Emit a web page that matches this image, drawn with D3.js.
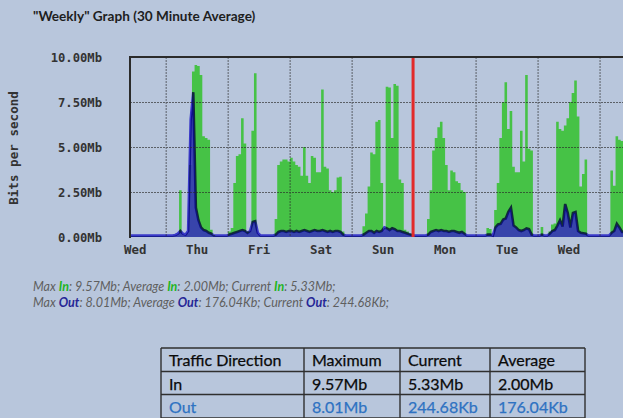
<!DOCTYPE html>
<html><head><meta charset="utf-8">
<script src="https://cdn.jsdelivr.net/npm/d3@7"></script>
<style>html,body{margin:0;padding:0;background:#b8c6dc;} svg{display:block}</style>
</head><body>
<svg id="c" width="623" height="418"></svg>
<script>
// ---------- data ----------
const titleText = "\"Weekly\" Graph (30 Minute Average)";
const yTicks = [0, 2.5, 5, 7.5, 10];
const yTickLabels = ["0.00Mb", "2.50Mb", "5.00Mb", "7.50Mb", "10.00Mb"];
const dayLabels = ["Wed", "Thu", "Fri", "Sat", "Sun", "Mon", "Tue", "Wed"];
const dayNoonHours = [-12, 12, 36, 60, 84, 108, 132, 156];
const midnightHours = [0, 24, 48, 72, 120, 144, 168];
const nowHour = 95.6;
const startHour = -14;   // Wed 10:00, hours relative to Thu 00:00
const endHour = 177;

// hourly "In" averages (Mb/s)
const inWedA = [0.05,0.05,0.05,0.05,0.05,0.05,0.05,0.05,0.05,0.05,0.05,0.05,0.05,0.05];
const inThu = [0.05,0.05,0.05,0.05,0.1,2.6,0.1,0.05,0.2,4.0,9.2,9.55,9.5,9.0,5.6,5.5,5.4,0.4,0.1,0.05,0.05,0.05,0.05,0.05];
const inFri = [0.3,0.5,3.0,4.5,4.6,6.6,5.2,0.3,0.3,5.9,9.1,0.1,0.05,0.05,0.05,0.05,0.05,0.05,1.0,4.0,4.2,4.3,4.3,4.2];
const inSat = [4.4,4.2,4.0,3.9,3.4,5.0,3.4,3.0,4.5,4.4,3.6,3.6,8.2,3.9,3.8,2.6,2.5,2.6,3.3,3.35,0.3,0.05,0.05,0.05];
const inSun = [0.05,0.05,0.05,0.05,0.6,1.3,2.8,4.7,4.6,6.4,6.5,3.0,0.3,8.35,8.3,5.5,8.5,8.4,3.2,3.0,0.4,0.3,0.2,0.2];
const inMon = [0.05,0.05,0.05,0.05,0.05,1.0,2.6,4.8,5.5,6.1,6.4,5.5,4.0,2.6,3.7,3.6,3.1,3.0,2.6,2.5,0.05,0.05,0.05,0.05];
const inTue = [0.05,0.05,0.05,0.05,0.5,0.45,0.05,1.5,3.0,5.5,7.5,8.6,6.0,7.0,3.9,3.6,3.6,5.9,4.2,9.0,4.9,4.8,0.05,0.05];
const inWedB = [0.05,0.55,0.05,0.05,0.3,0.7,0.75,6.4,6.0,5.9,6.2,6.6,7.5,8.0,8.7,6.7,2.8,3.5,4.3,0.05,0.05,0.05,0.05,0.05,0.05,0.05,0.05,0.05,3.7,2.85,5.6,5.4,5.33];

// hourly "Out" averages (Mb/s)
const outWedA = [0.05,0.05,0.05,0.05,0.05,0.05,0.05,0.05,0.05,0.05,0.05,0.05,0.05,0.05];
const outThu = [0.05,0.05,0.05,0.08,0.15,0.3,0.15,0.1,0.3,6.5,8.01,1.6,0.9,0.5,0.35,0.3,0.2,0.15,0.05,0.05,0.05,0.05,0.05,0.05];
const outFri = [0.1,0.15,0.2,0.25,0.3,0.35,0.3,0.2,0.3,0.8,0.85,0.2,0.05,0.05,0.05,0.05,0.05,0.05,0.1,0.25,0.3,0.3,0.25,0.3];
const outSat = [0.3,0.25,0.3,0.25,0.3,0.35,0.3,0.25,0.3,0.35,0.3,0.3,0.35,0.3,0.25,0.3,0.25,0.3,0.3,0.25,0.1,0.05,0.05,0.05];
const outSun = [0.05,0.05,0.05,0.05,0.1,0.2,0.3,0.3,0.2,0.3,0.25,0.3,0.5,0.45,0.35,0.45,0.4,0.3,0.3,0.25,0.2,0.15,0.1,0.05];
const outMon = [0.05,0.05,0.05,0.05,0.05,0.1,0.25,0.3,0.35,0.3,0.35,0.3,0.3,0.25,0.3,0.3,0.25,0.2,0.25,0.15,0.05,0.05,0.05,0.05];
const outTue = [0.05,0.05,0.05,0.05,0.1,0.1,0.05,0.5,0.66,0.7,0.94,1.0,1.37,1.6,0.6,0.5,0.35,0.3,0.35,0.44,0.4,0.1,0.05,0.05];
const outWedB = [0.05,0.1,0.05,0.05,0.15,0.3,0.35,0.6,0.9,0.55,1.8,1.3,0.5,1.3,1.35,0.3,0.2,0.18,0.15,0.05,0.05,0.05,0.05,0.05,0.05,0.05,0.05,0.05,0.2,0.3,0.7,0.5,0.25];

const statNames = ["Max", "Average", "Current"];
const inStats = ["9.57Mb", "2.00Mb", "5.33Mb"];
const outStats = ["8.01Mb", "176.04Kb", "244.68Kb"];
const tableHeader = ["Traffic Direction", "Maximum", "Current", "Average"];
const tableIn = ["In", "9.57Mb", "5.33Mb", "2.00Mb"];
const tableOut = ["Out", "8.01Mb", "244.68Kb", "176.04Kb"];

// ---------- drawing ----------
const svg = d3.select("#c");
const BG = "#b8c6dc", GREEN = "#46c246", BLUE = "#3636b6";
svg.append("rect").attr("width", 623).attr("height", 418).attr("fill", BG);

const L = 130, T = 57, R = 623.3, B = 237;
const x = d3.scaleLinear().domain([startHour, endHour]).range([L, R]);
const y = d3.scaleLinear().domain([0, 10]).range([B, T]);

const toSeries = arr => arr.map((v, i) => ({ t: startHour + i, v }));
const inSeries = toSeries([].concat(inWedA, inThu, inFri, inSat, inSun, inMon, inTue, inWedB));
const outSeries = toSeries([].concat(outWedA, outThu, outFri, outSat, outSun, outMon, outTue, outWedB));

svg.append("defs").append("clipPath").attr("id", "plot")
  .append("rect").attr("x", L).attr("y", T).attr("width", R - L).attr("height", B - T + 3);

// title
svg.append("text").attr("x", 33).attr("y", 21)
  .attr("font-family", "Lato").attr("font-weight", "bold").attr("font-size", 13.6)
  .attr("fill", "#1e1e1e").text(titleText);

const plot = svg.append("g").attr("clip-path", "url(#plot)");

// In area (step bars)
const inPts = inSeries.concat([{ t: endHour, v: inSeries[inSeries.length - 1].v }]);
plot.append("path").datum(inPts)
  .attr("fill", GREEN)
  .attr("d", d3.area().curve(d3.curveStepAfter).x(d => x(d.t)).y0(y(0)).y1(d => y(d.v)));

// Out area + line
const outPts = outSeries.map(d => ({ t: d.t + 0.5, v: d.v }));
outPts.unshift({ t: startHour, v: outSeries[0].v });
outPts.push({ t: endHour, v: outSeries[outSeries.length - 1].v });
plot.append("path").datum(outPts)
  .attr("fill", BLUE).attr("opacity", 0.9)
  .attr("d", d3.area().x(d => x(d.t)).y0(y(0)).y1(d => y(d.v)));

// grid
const grid = svg.append("g").attr("stroke", "#2a2a2a").attr("stroke-width", 1)
  .attr("stroke-dasharray", "2,1").attr("opacity", 0.65);
grid.selectAll("line.h").data(yTicks.filter(v => v > 0 && v < 10)).join("line")
  .attr("x1", L).attr("x2", R).attr("y1", d => y(d) + 0.5).attr("y2", d => y(d) + 0.5);
grid.selectAll("line.v").data(midnightHours).join("line")
  .attr("x1", d => x(d)).attr("x2", d => x(d)).attr("y1", T).attr("y2", B);

// out line (multiplied over the fill)
plot.append("path").datum(outPts)
  .attr("fill", "none").attr("stroke", "#3a3ac8").attr("stroke-width", 2.6)
  .style("mix-blend-mode", "multiply")
  .attr("d", d3.line().x(d => x(d.t)).y(d => y(d.v) - 0.6));

// frame
svg.append("line").attr("x1", L - 1).attr("x2", 623).attr("y1", T).attr("y2", T)
  .attr("stroke", "#2b2b2b").attr("stroke-width", 2);
svg.append("line").attr("x1", L).attr("x2", L).attr("y1", T).attr("y2", B + 1)
  .attr("stroke", "#2b2b2b").attr("stroke-width", 2);

// red now-line
svg.append("line").attr("x1", x(nowHour)).attr("x2", x(nowHour)).attr("y1", T + 1).attr("y2", B)
  .attr("stroke", "#e22a2a").attr("stroke-width", 3);

// y axis labels
const mono = "DejaVu Sans Mono";
svg.append("g").selectAll("text").data(yTicks).join("text")
  .attr("x", 102).attr("y", d => y(d) + 4.5).attr("text-anchor", "end")
  .attr("font-family", mono).attr("font-weight", "bold").attr("font-size", 12.2)
  .attr("fill", "#333").text((d, i) => yTickLabels[i]);

svg.append("text").attr("transform", "translate(18,148) rotate(-90)")
  .attr("text-anchor", "middle").attr("font-family", mono).attr("font-weight", "bold")
  .attr("font-size", 12.6).attr("fill", "#333").text("Bits per second");

// x labels
svg.append("g").selectAll("text").data(dayLabels).join("text")
  .attr("x", (d, i) => x(dayNoonHours[i])).attr("y", 254).attr("text-anchor", "middle")
  .attr("font-family", mono).attr("font-weight", "bold").attr("font-size", 12.4)
  .attr("fill", "#333").text(d => d);

// legend lines
function legendLine(yPos, key, color, stats) {
  const t = svg.append("text").attr("x", 33).attr("y", yPos)
    .attr("font-family", "Lato").attr("font-style", "italic").attr("font-size", 12.5)
    .attr("fill", "#5f5f5f");
  statNames.forEach((n, i) => {
    t.append("tspan").text((i ? " " : "") + n + " ");
    t.append("tspan").attr("font-weight", "bold").attr("fill", color).text(key);
    t.append("tspan").text(": " + stats[i] + ";");
  });
}
legendLine(291, "In", "#1fb51f", inStats);
legendLine(307, "Out", "#262696", outStats);

// table
const colX = [161, 304, 400, 490, 585];
const rowY = [348, 371.5, 394.5, 418];
const tbl = svg.append("g");
const rows = [tableHeader, tableIn, tableOut];
const rowColors = ["#0a0a0a", "#0a0a0a", "#2e72c2"];
rows.forEach((r, ri) => {
  r.forEach((c, ci) => {
    tbl.append("text").attr("x", colX[ci] + 8).attr("y", rowY[ri] + 18)
      .attr("font-family", "Lato").attr("font-size", 16).attr("fill", rowColors[ri])
      .attr("stroke", rowColors[ri]).attr("stroke-width", 0.25).text(c);
  });
});
const bs = "#2f2f2f";
rowY.forEach(yy => tbl.append("line").attr("x1", colX[0]).attr("x2", colX[4])
  .attr("y1", yy).attr("y2", yy).attr("stroke", bs).attr("stroke-width", 1.4));
colX.forEach(xx => tbl.append("line").attr("x1", xx).attr("x2", xx)
  .attr("y1", rowY[0]).attr("y2", rowY[3]).attr("stroke", bs).attr("stroke-width", 1.4));
</script>
</body></html>
